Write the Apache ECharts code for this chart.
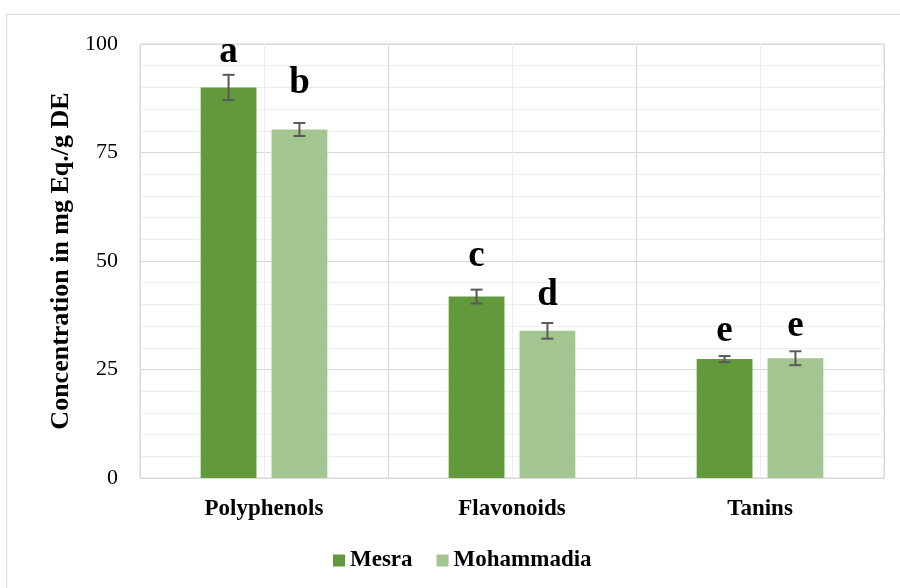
<!DOCTYPE html>
<html>
<head>
<meta charset="utf-8">
<script src="https://cdn.jsdelivr.net/npm/echarts@6/dist/echarts.min.js"></script>
<style>
  html, body { margin: 0; padding: 0; background: #fff; }
  #chart { width: 900px; height: 588px; }
</style>
</head>
<body>
<div id="chart"></div>
<script>
// Phenolic content by extract, with standard deviations and significance letters
const categories = ['Polyphenols', 'Flavonoids', 'Tanins'];
const seriesNames = ['Mesra', 'Mohammadia'];
const mesra = [90.0, 41.8, 27.4];
const mesraErr = [2.9, 1.6, 0.7];
const mesraLetters = ['a', 'c', 'e'];
const mohammadia = [80.3, 33.9, 27.6];
const mohammadiaErr = [1.5, 1.8, 1.6];
const mohammadiaLetters = ['b', 'd', 'e'];
const yTicks = [0, 25, 50, 75, 100];

const SERIF = "'Liberation Serif', 'Times New Roman', serif";
const COLORS = ['#63993d', '#a3c590'];
const BAR_WIDTH = 0.225;           // fraction of a category band
const BAR_GAP = 0.27;              // fraction of a bar width
const BAR_SHIFT = BAR_WIDTH * (1 + BAR_GAP) / 2;
// vertical room (px) between each error bar's top and its letter
const mesraLift = [10, 21, 13];
const mohammadiaLift = [28, 16, 13];

function overlay(values, errs, letters, lifts, side) {
  return {
    type: 'custom',
    silent: true,
    z: 5,
    data: values.map((v, i) => [i, v, errs[i]]),
    renderItem(params, api) {
      const cat = api.value(0), v = api.value(1), e = api.value(2);
      const band = api.size([1, 0])[0];
      const hi = api.coord([cat, v + e]);
      const lo = api.coord([cat, v - e]);
      const x = hi[0] + side * band * BAR_SHIFT;
      const cap = 6;
      const style = { stroke: '#595959', lineWidth: 2 };
      const i = params.dataIndex;
      return {
        type: 'group',
        children: [
          { type: 'line', shape: { x1: x, y1: hi[1], x2: x, y2: lo[1] }, style },
          { type: 'line', shape: { x1: x - cap, y1: hi[1], x2: x + cap, y2: hi[1] }, style },
          { type: 'line', shape: { x1: x - cap, y1: lo[1], x2: x + cap, y2: lo[1] }, style },
          {
            type: 'text',
            style: {
              x: x, y: hi[1] - lifts[i] - 12,
              text: letters[i],
              align: 'center', verticalAlign: 'middle',
              font: 'bold 37px ' + SERIF,
              fill: '#000'
            }
          }
        ]
      };
    }
  };
}

const chart = echarts.init(document.getElementById('chart'));
chart.setOption({
  animation: false,
  backgroundColor: '#fff',
  graphic: [{
    type: 'rect', silent: true, z: -10,
    shape: { x: 6.5, y: 14.5, width: 1000, height: 1000 },
    style: { fill: 'none', stroke: '#d9d9d9', lineWidth: 1 }
  }],
  grid: {
    left: 140, right: 16, top: 44, bottom: 110,
    show: true, borderColor: '#d9d9d9', borderWidth: 1
  },
  legend: {
    data: seriesNames,
    left: 328, top: 544,
    icon: 'rect', itemWidth: 12, itemHeight: 12, itemGap: 24,
    textStyle: { fontFamily: SERIF, fontWeight: 'bold', fontSize: 23, color: '#000' }
  },
  xAxis: [{
    type: 'category',
    data: categories,
    axisLine: { show: false },
    axisTick: { show: false },
    axisLabel: { margin: 20, fontFamily: SERIF, fontWeight: 'bold', fontSize: 23, color: '#000' },
    splitLine: { show: true, lineStyle: { color: '#d9d9d9', width: 1 } },
    z: 2
  }, {
    // finer vertical guides through the middle of each group
    type: 'category',
    data: ['', '', '', '', '', ''],
    position: 'bottom',
    axisLine: { show: false },
    axisTick: { show: false },
    axisLabel: { show: false },
    splitLine: { show: true, interval: (i) => i % 2 === 1, lineStyle: { color: '#ededed', width: 1 } },
    z: 1
  }],
  yAxis: {
    type: 'value',
    min: yTicks[0], max: yTicks[yTicks.length - 1], interval: 25,
    name: 'Concentration in mg Eq./g DE',
    nameLocation: 'middle', nameRotate: 90, nameGap: 66,
    nameTextStyle: { fontFamily: SERIF, fontWeight: 'bold', fontSize: 26, color: '#000' },
    axisLine: { show: false },
    axisTick: { show: false },
    axisLabel: { margin: 22, fontFamily: SERIF, fontSize: 22, color: '#000' },
    splitLine: { show: true, lineStyle: { color: '#d9d9d9', width: 1 } },
    minorTick: { show: false, splitNumber: 5 },
    minorSplitLine: { show: true, lineStyle: { color: '#ededed', width: 1 } }
  },
  series: [
    {
      name: seriesNames[0], type: 'bar', data: mesra,
      barWidth: (BAR_WIDTH * 100) + '%', barGap: (BAR_GAP * 100) + '%',
      itemStyle: { color: COLORS[0] }, z: 3
    },
    {
      name: seriesNames[1], type: 'bar', data: mohammadia,
      barWidth: (BAR_WIDTH * 100) + '%', barGap: (BAR_GAP * 100) + '%',
      itemStyle: { color: COLORS[1] }, z: 3
    },
    overlay(mesra, mesraErr, mesraLetters, mesraLift, -1),
    overlay(mohammadia, mohammadiaErr, mohammadiaLetters, mohammadiaLift, 1)
  ]
});
</script>
</body>
</html>
